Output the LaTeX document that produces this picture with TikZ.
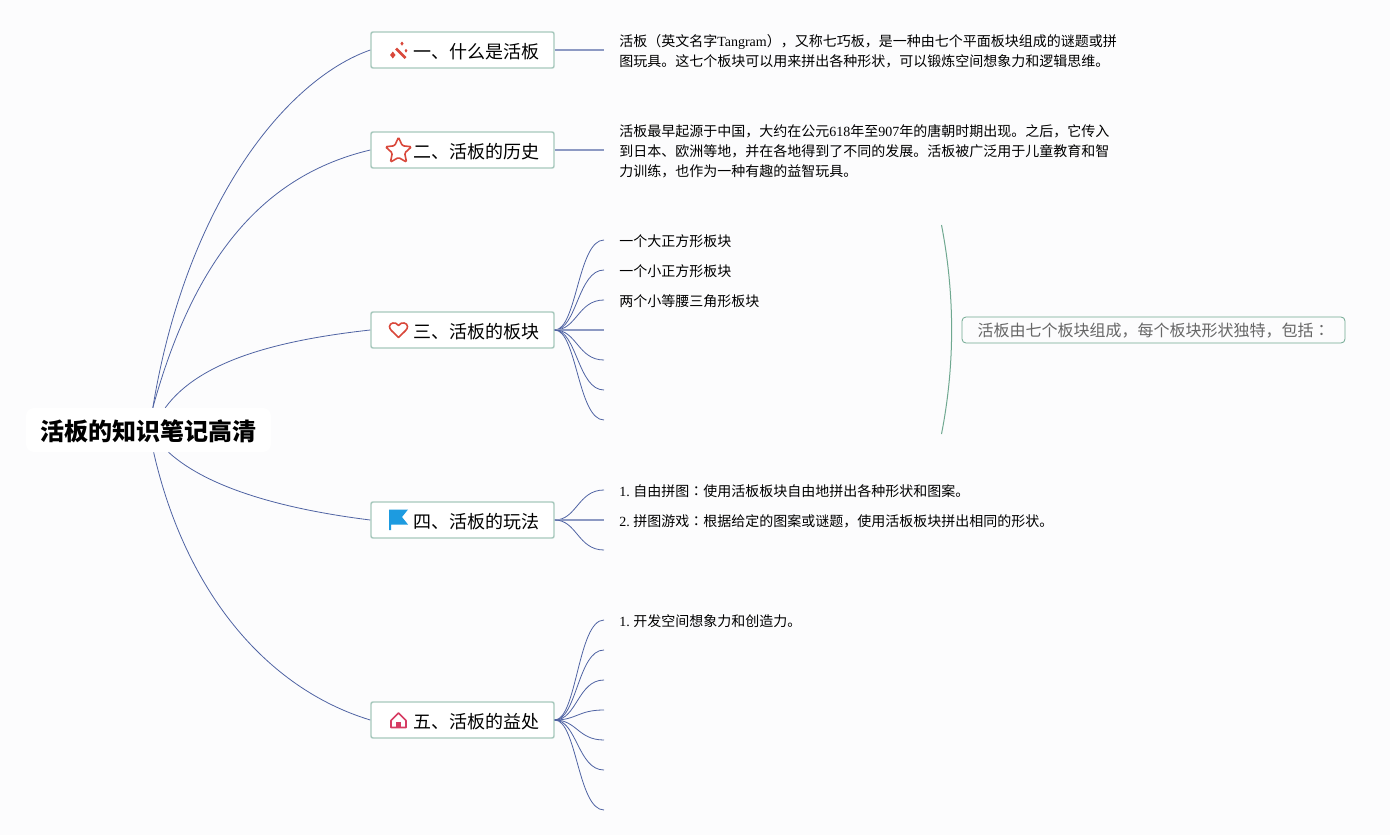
\documentclass[tikz,border=0pt]{standalone}
\usepackage{fontspec}
\setmainfont{Noto Sans CJK SC}
\newfontfamily\latinfont{Liberation Serif}
\newfontfamily\colonfont{Noto Sans CJK TC}
\newcommand{\la}[1]{{\latinfont #1}}
\newcommand{\co}{{\colonfont ：}}
\usetikzlibrary{positioning,shapes.geometric}

\definecolor{paper}{HTML}{FCFCFD}
\definecolor{linkblue}{HTML}{4F63A3}
\definecolor{boxgreen}{HTML}{A6C8BC}
\definecolor{sumgreen}{HTML}{6FA890}
\definecolor{iconred}{HTML}{D9483B}
\definecolor{iconblue}{HTML}{1D9BE0}
\definecolor{iconrose}{HTML}{D63C63}

\begin{document}
\begin{tikzpicture}[x=0.75pt,y=-0.75pt]
	\tikzstyle{root}=[fill=white,rounded corners=6pt,minimum width=183.75pt,minimum height=33pt,inner sep=0pt,text height=15.9pt,text depth=0pt,font=\fontsize{18}{22}\selectfont\bfseries]
	\tikzstyle{branch}=[draw=boxgreen,line width=1.1pt,fill=white,rounded corners=1.5pt,minimum height=27pt,inner xsep=11.25pt,inner ysep=0pt,text width=114.75pt,text height=13.2pt,text depth=0pt,align=right,font=\fontsize{13.5}{16}\selectfont]
	\tikzstyle{note}=[anchor=west,inner xsep=11.25pt,inner ysep=0pt,align=left,font=\fontsize{10.5}{15}\selectfont]
	\tikzstyle{leaf}=[note,text height=10.4pt,text depth=0pt]
	\tikzstyle{summary}=[draw=sumgreen,line width=0.6pt,rounded corners=3pt,minimum width=287.25pt,minimum height=19.5pt,inner sep=0pt,text=black!60,text height=10.2pt,text depth=0pt,font=\fontsize{12}{15}\selectfont]
	\tikzstyle{link}=[draw=linkblue,line width=0.6pt]
	\tikzstyle{flat}=[draw=linkblue!65,line width=0.95pt]
	\tikzstyle{fan}=[to path={.. controls +(22,0) and +(-26,0) .. (\tikztotarget)}]

	\fill[paper] (0,0) rectangle (1390,835);
	\useasboundingbox (0,0) rectangle (1390,835);

	\node[root] (ROOT) at (148.5,430) {活板的知识笔记高清};
	\node[branch] (WHAT) at (462.5,50) {一、什么是活板};
	\node[branch] (HISTORY) at (462.5,150) {二、活板的历史};
	\node[branch] (PIECES) at (462.5,330) {三、活板的板块};
	\node[branch] (PLAY) at (462.5,520) {四、活板的玩法};
	\node[branch] (BENEFIT) at (462.5,720) {五、活板的益处};

	\node[note] (WHAT_TXT) at (604,51.5) {活板（英文名字\la{Tangram}），又称七巧板，是一种由七个平面板块组成的谜题或拼\\图玩具。这七个板块可以用来拼出各种形状，可以锻炼空间想象力和逻辑思维。};
	\node[note] (HISTORY_TXT) at (604,151.5) {活板最早起源于中国，大约在公元\la{618}年至\la{907}年的唐朝时期出现。之后，它传入\\到日本、欧洲等地，并在各地得到了不同的发展。活板被广泛用于儿童教育和智\\力训练，也作为一种有趣的益智玩具。};

	\node[leaf] (P1) at (604,240) {一个大正方形板块};
	\node[leaf] (P2) at (604,270) {一个小正方形板块};
	\node[leaf] (P3) at (604,300) {两个小等腰三角形板块};
	\coordinate (P4) at (604,330);
	\coordinate (P5) at (604,360);
	\coordinate (P6) at (604,390);
	\coordinate (P7) at (604,420);

	\node[leaf] (G1) at (604,490) {\la{1.\ }自由拼图\co{}使用活板板块自由地拼出各种形状和图案。};
	\node[leaf] (G2) at (604,520) {\la{2.\ }拼图游戏\co{}根据给定的图案或谜题，使用活板板块拼出相同的形状。};
	\coordinate (G3) at (604,550);

	\node[leaf] (B1) at (604,620) {\la{1.\ }开发空间想象力和创造力。};
	\coordinate (B2) at (604,650);
	\coordinate (B3) at (604,680);
	\coordinate (B4) at (604,710);
	\coordinate (B5) at (604,740);
	\coordinate (B6) at (604,770);
	\coordinate (B7) at (604,810);

	\node[summary] (SUM) at (1153.5,330) {活板由七个板块组成，每个板块形状独特，包括\co};
	\coordinate (SUM_TOP) at (941.5,225);
	\coordinate (SUM_BOT) at (941.5,434);

	\draw[link] (ROOT.79) .. controls (186,205) and (285,80) .. (WHAT.west);
	\draw[link] (ROOT.79) .. controls (195,255) and (265,175) .. (HISTORY.west);
	\draw[link] (ROOT.53) .. controls (200,360) and (280,340) .. (PIECES.west);
	\draw[link] (ROOT.-48) .. controls (210,490) and (290,510) .. (PLAY.west);
	\draw[link] (ROOT.-77) .. controls (185,590) and (265,688) .. (BENEFIT.west);

	\draw[flat] (WHAT.east) -- (WHAT.east -| WHAT_TXT.west);
	\draw[flat] (HISTORY.east) -- (HISTORY.east -| HISTORY_TXT.west);
	\path[link,fan] (PIECES.east) edge (P1.west)
				(PIECES.east) edge (P2.west)
				(PIECES.east) edge (P3.west)
				(PIECES.east) edge[flat] (P4)
				(PIECES.east) edge (P5)
				(PIECES.east) edge (P6)
				(PIECES.east) edge (P7);
	\path[link,fan] (PLAY.east) edge (G1.west)
				(PLAY.east) edge[flat] (G2.west)
				(PLAY.east) edge (G3);
	\path[link,fan] (BENEFIT.east) edge (B1.west)
				(BENEFIT.east) edge (B2)
				(BENEFIT.east) edge (B3)
				(BENEFIT.east) edge (B4)
				(BENEFIT.east) edge (B5)
				(BENEFIT.east) edge (B6)
				(BENEFIT.east) edge (B7);

	\draw[draw=sumgreen,line width=0.75pt] (SUM_TOP) .. controls (955,295) and (955,365) .. (SUM_BOT);

	\draw[iconred,line width=1.9pt] (396,48.5) -- (405.5,58);
	\fill[iconred] (402,41.5) -- (403.6,43.6) -- (402,45.7) -- (400.4,43.6) -- cycle
		(392.8,51.5) -- (395.5,55) -- (392.8,58.5) -- (390.1,55) -- cycle
		(406,48.8) -- (407.4,50.7) -- (406,52.6) -- (404.6,50.7) -- cycle;
	\node[star,star points=5,star point ratio=2.1,draw=iconred,line width=1.2pt,rounded corners=1pt,minimum size=20.5pt,inner sep=0pt] (ICON_STAR) at (398.5,151) {};
	\draw[iconred,line width=1.2pt,line join=round] (398.5,337.5) .. controls (392,331) and (389.5,329.5) .. (389.5,326.5) .. controls (389.5,323) and (395.5,321) .. (398.5,325.5) .. controls (401.5,321) and (407.5,323) .. (407.5,326.5) .. controls (407.5,329.5) and (405,331) .. (398.5,337.5) -- cycle;
	\fill[iconblue] (389,509.5) -- (408,509.5) -- (402,517) -- (408,524.5) -- (391,524.5) -- (391,530) -- (389,530) -- cycle;
	\draw[iconrose,line width=1.2pt,line join=round] (391,727.5) -- (391,720.5) -- (398.5,713) -- (406,720.5) -- (406,727.5) -- cycle;
	\fill[iconrose] (396,722) rectangle (401,728);
\end{tikzpicture}
\end{document}
